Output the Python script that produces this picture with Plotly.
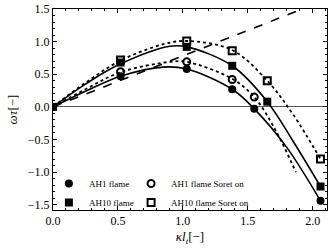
import plotly.graph_objects as go

# marker data (kappa*l_t, omega*tau)
x_ah1 = [0.0, 0.52, 1.03, 1.38, 1.55, 2.06]
y_ah1 = [0.0, 0.47, 0.58, 0.27, -0.03, -1.44]
x_ah10 = [0.0, 0.52, 1.03, 1.38, 1.65, 2.06]
y_ah10 = [0.0, 0.68, 0.92, 0.63, 0.08, -1.22]
x_ah1s = [0.52, 1.03, 1.38, 1.55]
y_ah1s = [0.54, 0.69, 0.42, 0.15]
x_ah10s = [0.52, 1.03, 1.38, 1.65, 2.06]
y_ah10s = [0.72, 1.01, 0.86, 0.40, -0.80]

# fitted curves
cx_ah1 = [0.0, 0.25, 0.52, 0.85, 1.03, 1.38, 1.55, 1.8, 2.06]
cy_ah1 = [0.0, 0.24, 0.47, 0.61, 0.58, 0.27, -0.03, -0.62, -1.44]
cx_ah10 = [0.0, 0.25, 0.52, 0.9, 1.03, 1.38, 1.65, 1.85, 2.06]
cy_ah10 = [0.0, 0.35, 0.66, 0.93, 0.92, 0.63, 0.08, -0.53, -1.22]
cx_ah1s = [0.0, 0.25, 0.52, 0.9, 1.03, 1.38, 1.55, 1.72, 1.87]
cy_ah1s = [0.0, 0.27, 0.53, 0.69, 0.69, 0.43, 0.15, -0.38, -1.0]
cx_ah10s = [0.0, 0.25, 0.52, 0.85, 1.03, 1.38, 1.65, 1.85, 2.06]
cy_ah10s = [0.0, 0.37, 0.71, 0.96, 1.01, 0.87, 0.40, -0.12, -0.80]
dash_x = [0.0, 1.92]
dash_y = [0.0, 1.5]

fig = go.Figure()
lw = 1.6
fig.add_trace(go.Scatter(x=dash_x, y=dash_y, mode="lines", line=dict(color="black", width=lw, dash="dash"), showlegend=False))
fig.add_trace(go.Scatter(x=cx_ah1, y=cy_ah1, mode="lines", line=dict(color="black", width=lw, shape="spline"), showlegend=False))
fig.add_trace(go.Scatter(x=cx_ah10, y=cy_ah10, mode="lines", line=dict(color="black", width=lw, shape="spline"), showlegend=False))
fig.add_trace(go.Scatter(x=cx_ah1s, y=cy_ah1s, mode="lines", line=dict(color="black", width=1.8, dash="dot", shape="spline"), showlegend=False))
fig.add_trace(go.Scatter(x=cx_ah10s, y=cy_ah10s, mode="lines", line=dict(color="black", width=1.8, dash="dot", shape="spline"), showlegend=False))

ms = 8
fig.add_trace(go.Scatter(x=x_ah1, y=y_ah1, mode="markers", name="AH1 flame", legend="legend",
                         marker=dict(symbol="circle", size=ms, color="black")))
fig.add_trace(go.Scatter(x=x_ah10, y=y_ah10, mode="markers", name="AH10 flame", legend="legend",
                         marker=dict(symbol="square", size=ms, color="black")))
fig.add_trace(go.Scatter(x=x_ah1s, y=y_ah1s, mode="markers", name="AH1 flame Soret on", legend="legend2",
                         marker=dict(symbol="circle-open", size=ms - 1, color="black", line=dict(width=2))))
fig.add_trace(go.Scatter(x=x_ah10s, y=y_ah10s, mode="markers", name="AH10 flame Soret on", legend="legend2",
                         marker=dict(symbol="square-open", size=ms - 1, color="black", line=dict(width=2))))

font = "Liberation Serif, Times New Roman, serif"
axis_common = dict(showline=True, linecolor="black", linewidth=1, mirror="ticks",
                   ticks="inside", ticklen=4, tickcolor="black", showgrid=False, automargin=False,
                   tickfont=dict(family=font, size=12, color="black"),
                   minor=dict(ticks="inside", ticklen=2, tickcolor="black", dtick=0.1))
fig.update_xaxes(range=[0, 2.11], dtick=0.5, tickformat=".1f", zeroline=False,
                 title=dict(text="<i>κl</i><sub><i>t</i></sub>[−]", font=dict(family=font, size=13, color="black"), standoff=4),
                 **axis_common)
fig.update_yaxes(range=[-1.58, 1.5], dtick=0.5, tickformat=".1f", zeroline=True,
                 zerolinecolor="#555555", zerolinewidth=1,
                 title=dict(text="<i>ωτ</i>[−]", font=dict(family=font, size=13, color="black"), standoff=7),
                 **axis_common)
leg_common = dict(orientation="v", yanchor="bottom", xanchor="left", bgcolor="rgba(0,0,0,0)",
                  font=dict(family=font, size=9, color="black"), tracegroupgap=0, itemwidth=30)
fig.update_layout(width=333, height=251, margin=dict(l=53, r=6, t=9, b=41),
                  plot_bgcolor="white", paper_bgcolor="white",
                  font=dict(family=font, color="black"),
                  legend=dict(x=-0.015, y=-0.035, **leg_common),
                  legend2=dict(x=0.285, y=-0.035, **leg_common))
fig.write_html("out.html", config={"displayModeBar": False},
               post_script="document.body.style.margin='0';document.body.style.padding='0';")
